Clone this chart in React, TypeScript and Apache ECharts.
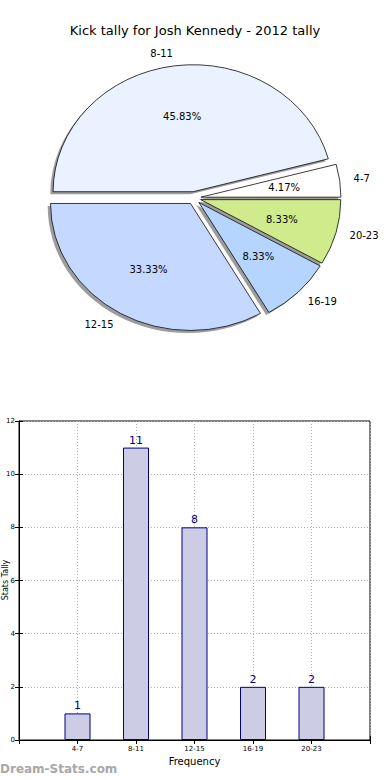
import React, { useEffect, useRef } from "react";
import * as echarts from "echarts";

const categories = ["4-7", "8-11", "12-15", "16-19", "20-23"];
const tallies = [1, 11, 8, 2, 2];
const sliceColors = ["#ffffff", "#eaf1ff", "#c5d8ff", "#b5d5ff", "#d0eb8b"];
const yTicks = { min: 0, max: 12, interval: 2 };
const titleText = "Kick tally for Josh Kennedy - 2012 tally";
const yAxisTitle = "Stats Tally";

const PIE = { cx: 194, cy: 198, rx: 140, ry: 127, explode: 0.05 };
const FONT = "DejaVu Sans";

function sliceAngles(i: number) {
  const total = tallies.reduce((a, b) => a + b, 0);
  let acc = 0;
  for (let k = 0; k < i; k++) acc += tallies[k];
  const a0 = (acc / total) * Math.PI * 2;
  const a1 = ((acc + tallies[i]) / total) * Math.PI * 2;
  return { a0, a1, mid: (a0 + a1) / 2, total };
}

export default function App() {
  const ref = useRef<HTMLDivElement>(null);
  useEffect(() => {
    document.body.style.margin = "0";
    const chart = echarts.init(ref.current!, undefined, { renderer: "svg" });
    const pieData = tallies.map((v, i) => [i, v]);

    const shadowItem = (params: any, api: any) => {
      const i = api.value(0);
      const { a0, a1, mid } = sliceAngles(i);
      const sx = PIE.cx + PIE.explode * PIE.rx * Math.cos(mid) - 0.02 * PIE.rx;
      const sy = PIE.cy - PIE.explode * PIE.ry * Math.sin(mid) + 0.02 * PIE.ry;
      return {
        type: "sector",
        x: sx,
        y: sy,
        scaleY: PIE.ry / PIE.rx,
        shape: { cx: 0, cy: 0, r: PIE.rx, r0: 0, startAngle: -a1, endAngle: -a0, clockwise: true },
        style: { fill: "rgba(60,60,60,0.5)", stroke: "none" },
        silent: true,
      };
    };

    const wedgeItem = (params: any, api: any) => {
      const i = api.value(0);
      const { a0, a1, mid, total } = sliceAngles(i);
      const ox = PIE.cx + PIE.explode * PIE.rx * Math.cos(mid);
      const oy = PIE.cy - PIE.explode * PIE.ry * Math.sin(mid);
      const pct = ((api.value(1) / total) * 100).toFixed(2) + "%";
      const lx = ox + 1.1 * PIE.rx * Math.cos(mid);
      const ly = oy - 1.1 * PIE.ry * Math.sin(mid);
      const px = ox + 0.6 * PIE.rx * Math.cos(mid);
      const py = oy - 0.6 * PIE.ry * Math.sin(mid);
      return {
        type: "group",
        children: [
          {
            type: "sector",
            x: ox,
            y: oy,
            scaleY: PIE.ry / PIE.rx,
            shape: { cx: 0, cy: 0, r: PIE.rx, r0: 0, startAngle: -a1, endAngle: -a0, clockwise: true },
            style: { fill: sliceColors[i], stroke: "#000", lineWidth: 0.8, strokeNoScale: true },
          },
          {
            type: "text",
            x: px,
            y: py,
            style: { text: pct, fill: "#000", font: `10px '${FONT}'`, align: "center", verticalAlign: "middle" },
          },
          {
            type: "text",
            x: lx,
            y: ly,
            style: {
              text: categories[i],
              fill: "#000",
              font: `10px '${FONT}'`,
              align: Math.cos(mid) > 0 ? "left" : "right",
              verticalAlign: "middle",
            },
          },
        ],
      };
    };

    chart.setOption({
      animation: false,
      title: {
        text: titleText,
        left: "center",
        top: 19,
        textStyle: { fontFamily: FONT, fontSize: 13, fontWeight: "normal", color: "#000" },
      },
      grid: {
        left: 19,
        right: 20,
        top: 421,
        bottom: 40,
        outerBoundsMode: "none",
        containLabel: false,
        show: true,
        borderColor: "#000",
        borderWidth: 1,
      },
      xAxis: [
        {
          type: "value",
          min: 0,
          max: 6,
          interval: 1,
          name: "Frequency",
          nameLocation: "middle",
          nameGap: 16,
          nameTextStyle: { fontFamily: FONT, fontSize: 10, color: "#000" },
          axisLine: { show: true, lineStyle: { color: "#000" } },
          axisTick: { show: true, inside: true, length: 4, lineStyle: { color: "#000" } },
          axisLabel: {
            fontFamily: FONT,
            fontSize: 7,
            color: "#000",
            margin: 5,
            formatter: (v: number) => (v >= 1 && v <= categories.length ? categories[v - 1] : ""),
          },
          splitLine: { show: true, lineStyle: { color: "#b0b0b0", type: [1, 2], width: 1 } },
        },
        {
          type: "value",
          position: "top",
          min: 0,
          max: 6,
          interval: 1,
          axisLine: { show: true, lineStyle: { color: "#000" } },
          axisTick: { show: true, inside: true, length: 4, lineStyle: { color: "#000" } },
          axisLabel: { show: false },
          splitLine: { show: false },
        },
      ],
      yAxis: [
        {
          type: "value",
          min: yTicks.min,
          max: yTicks.max,
          interval: yTicks.interval,
          axisLine: { show: true, lineStyle: { color: "#000" } },
          axisTick: { show: true, inside: true, length: 4, lineStyle: { color: "#000" } },
          axisLabel: { fontFamily: FONT, fontSize: 7, color: "#000", margin: 4 },
          splitLine: { show: true, lineStyle: { color: "#b0b0b0", type: [1, 2], width: 1 } },
        },
        {
          type: "value",
          position: "right",
          min: yTicks.min,
          max: yTicks.max,
          interval: yTicks.interval,
          axisLine: { show: true, lineStyle: { color: "#000" } },
          axisTick: { show: true, inside: true, length: 4, lineStyle: { color: "#000" } },
          axisLabel: { show: false },
          splitLine: { show: false },
        },
      ],
      graphic: [
        {
          type: "text",
          left: 0,
          top: 763,
          style: {
            text: "Dream-Stats.com",
            fill: "#a8a8a8",
            font: `bold 12px '${FONT}'`,
          },
        },
        {
          type: "text",
          x: 5,
          y: 580,
          rotation: Math.PI / 2,
          style: {
            text: yAxisTitle,
            fill: "#000",
            font: `8px '${FONT}'`,
            align: "center",
            verticalAlign: "middle",
          },
        },
      ],
      series: [
        {
          type: "custom",
          coordinateSystem: "none",
          renderItem: shadowItem,
          data: pieData,
          z: 1,
          silent: true,
        },
        {
          type: "custom",
          coordinateSystem: "none",
          renderItem: wedgeItem,
          data: pieData,
          z: 2,
        },
        {
          type: "bar",
          xAxisIndex: 0,
          yAxisIndex: 0,
          barWidth: 26,
          data: tallies.map((v, i) => [i + 1, v]),
          itemStyle: { color: "#ccccE4", borderColor: "#000080", borderWidth: 1 },
          label: {
            show: true,
            position: "top",
            distance: 2,
            color: "#000080",
            fontFamily: FONT,
            fontSize: 11,
          },
          z: 3,
        },
      ],
    });
    return () => chart.dispose();
  }, []);
  return <div ref={ref} style={{ width: 390, height: 780 }} />;
}
